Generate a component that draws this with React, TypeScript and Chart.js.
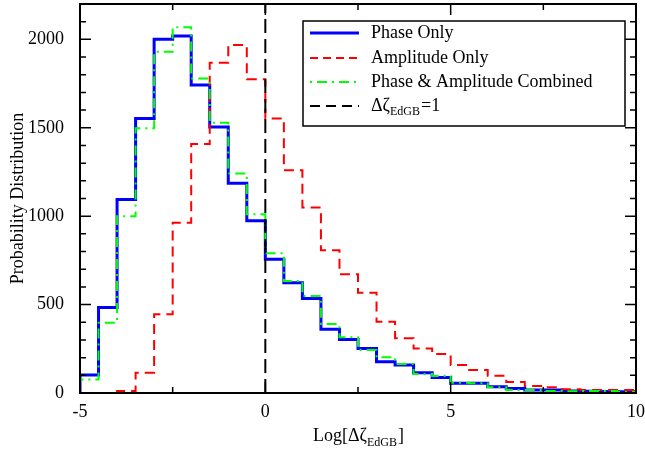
import React, { useEffect, useRef } from "react";
import { Chart, registerables } from "chart.js";

Chart.register(...registerables);

// Bin left edges (bin width 0.5), histogram ends at x = 10
const binEdges = [
  -5, -4.5, -4, -3.5, -3, -2.5, -2, -1.5, -1, -0.5,
  0, 0.5, 1, 1.5, 2, 2.5, 3, 3.5, 4, 4.5,
  5, 5.5, 6, 6.5, 7, 7.5, 8, 8.5, 9, 9.5,
];
const histEnd = 10;

const phaseOnly = [
  102, 484, 1094, 1552, 2000, 2019, 1742, 1504, 1186, 974,
  757, 623, 535, 360, 303, 252, 177, 158, 115, 88,
  55, 55, 36, 26, 17, 17, 12, 10, 9, 7,
];
const amplitudeOnly = [
  null, null, 11, 115, 445, 963, 1408, 1868, 1968, 1774,
  1553, 1260, 1049, 808, 672, 567, 403, 309, 252, 221,
  158, 130, 98, 62, 40, 32, 21, 17, 17, 17,
];
const combined = [
  77, 397, 1000, 1497, 1930, 2068, 1779, 1528, 1242, 1011,
  791, 634, 548, 390, 315, 243, 202, 164, 107, 96,
  58, 55, 32, 17, 17, 11, 10, 12, 11, 6,
];

const xTicks = [-5, 0, 5, 10];
const xMinorTicks = [-2.5, 2.5, 7.5];
const yTicks = [0, 500, 1000, 1500, 2000];
const yMinorStep = 100;
const yMax = 2200;
const markerX = 0;

const FONT = "'Liberation Serif', 'Times New Roman', serif";

function stepData(vals: (number | null)[]) {
  const pts: { x: number; y: number | null }[] = [];
  let started = false;
  vals.forEach((v, i) => {
    if (v !== null && !started) {
      pts.push({ x: binEdges[i], y: 0 });
      started = true;
    }
    pts.push({ x: binEdges[i], y: v });
  });
  pts.push({ x: histEnd, y: vals[vals.length - 1] });
  return pts;
}

const frameAndLegend = {
  id: "frameAndLegend",
  afterDraw(chart: any) {
    const ctx = chart.ctx;
    const { left, right, top, bottom } = chart.chartArea;
    const xs = chart.scales.x;
    const ys = chart.scales.y;
    ctx.save();
    // frame
    ctx.strokeStyle = "#000";
    ctx.lineWidth = 2;
    ctx.strokeRect(left, top, right - left, bottom - top);
    // ticks
    ctx.lineWidth = 1.5;
    ctx.beginPath();
    for (let v = 0; v <= yMax; v += yMinorStep) {
      const y = ys.getPixelForValue(v);
      const len = v % 500 === 0 ? 11 : 6;
      ctx.moveTo(left, y); ctx.lineTo(left + len, y);
      ctx.moveTo(right, y); ctx.lineTo(right - len, y);
    }
    xTicks.forEach((v) => {
      const x = xs.getPixelForValue(v);
      ctx.moveTo(x, bottom); ctx.lineTo(x, bottom - 11);
      ctx.moveTo(x, top); ctx.lineTo(x, top + 11);
    });
    xMinorTicks.forEach((v) => {
      const x = xs.getPixelForValue(v);
      ctx.moveTo(x, bottom); ctx.lineTo(x, bottom - 6);
      ctx.moveTo(x, top); ctx.lineTo(x, top + 6);
    });
    ctx.stroke();

    // x axis title with subscript
    ctx.fillStyle = "#000";
    ctx.textBaseline = "alphabetic";
    const big = `18px ${FONT}`;
    const small = `12px ${FONT}`;
    ctx.font = big;
    const w1 = ctx.measureText("Log[Δζ").width;
    const w3 = ctx.measureText("]").width;
    ctx.font = small;
    const w2 = ctx.measureText("EdGB").width;
    const cx = (left + right) / 2;
    let tx = cx - (w1 + w2 + w3) / 2;
    const by = 441;
    ctx.font = big;
    ctx.textAlign = "left";
    ctx.fillText("Log[Δζ", tx, by);
    tx += w1;
    ctx.font = small;
    ctx.fillText("EdGB", tx, by + 5);
    tx += w2 + 1;
    ctx.font = big;
    ctx.fillText("]", tx, by);

    // legend
    const bx = 303, byy = 21, bw = 322, bh = 105;
    ctx.fillStyle = "#fff";
    ctx.fillRect(bx, byy, bw, bh);
    ctx.strokeStyle = "#000";
    ctx.lineWidth = 1.5;
    ctx.strokeRect(bx, byy, bw, bh);
    const rows = [
      { label: "Phase Only", color: "#0000ff", dash: [], width: 3 },
      { label: "Amplitude Only", color: "#ff0000", dash: [8, 5], width: 2 },
      { label: "Phase & Amplitude Combined", color: "#00ff00", dash: [2, 5, 10, 5], width: 2 },
      { label: "Δζ", color: "#000000", dash: [10, 6], width: 2 },
    ];
    const rowY = [33, 58, 82, 106];
    rows.forEach((r, i) => {
      const y = rowY[i];
      ctx.beginPath();
      ctx.setLineDash(r.dash);
      ctx.strokeStyle = r.color;
      ctx.lineWidth = r.width;
      ctx.moveTo(310, y);
      ctx.lineTo(359, y);
      ctx.stroke();
      ctx.setLineDash([]);
      ctx.fillStyle = "#000";
      ctx.font = big;
      ctx.textBaseline = "middle";
      ctx.fillText(r.label, 371, y);
      if (i === 3) {
        let lx = 371 + ctx.measureText(r.label).width;
        ctx.font = small;
        ctx.fillText("EdGB", lx, y + 6);
        lx += ctx.measureText("EdGB").width + 1;
        ctx.font = big;
        ctx.fillText("=1", lx, y);
      }
    });
    ctx.restore();
  },
};

export default function App() {
  const ref = useRef<HTMLCanvasElement | null>(null);
  useEffect(() => {
    if (!ref.current) return;
    const chart = new Chart(ref.current, {
      type: "line",
      data: {
        datasets: [
          {
            label: "Δζ_EdGB=1",
            data: [{ x: markerX, y: 0 }, { x: markerX, y: yMax }],
            borderColor: "#000000",
            borderWidth: 2,
            borderDash: [14, 6],
            pointRadius: 0,
            order: 0,
          },
          {
            label: "Phase & Amplitude Combined",
            data: stepData(combined),
            borderColor: "#00ff00",
            borderWidth: 2,
            borderDash: [2, 5, 10, 5],
            stepped: "before",
            pointRadius: 0,
            order: 1,
          },
          {
            label: "Amplitude Only",
            data: stepData(amplitudeOnly),
            borderColor: "#ff0000",
            borderWidth: 2,
            borderDash: [10, 6],
            stepped: "before",
            pointRadius: 0,
            spanGaps: false,
            order: 2,
          },
          {
            label: "Phase Only",
            data: stepData(phaseOnly),
            borderColor: "#0000ff",
            borderWidth: 3,
            stepped: "before",
            pointRadius: 0,
            order: 3,
          },
        ] as any,
      },
      options: {
        animation: false,
        responsive: false,
        maintainAspectRatio: false,
        layout: { padding: { left: 0, right: 9, top: 4, bottom: 0 }, autoPadding: false } as any,
        plugins: { legend: { display: false }, tooltip: { enabled: false } },
        scales: {
          x: {
            type: "linear",
            min: -5,
            max: 10,
            grid: { display: false },
            border: { display: false },
            afterBuildTicks: (s: any) => { s.ticks = xTicks.map((v) => ({ value: v })); },
            afterFit: (s: any) => { s.height = 62; s.paddingLeft = 0; s.paddingRight = 0; },
            ticks: {
              color: "#000",
              font: { family: FONT, size: 18 },
              padding: 0,
              maxRotation: 0,
              callback: (v: any) => String(v),
            },
          },
          y: {
            type: "linear",
            min: 0,
            max: yMax,
            grid: { display: false },
            border: { display: false },
            afterBuildTicks: (s: any) => { s.ticks = yTicks.map((v) => ({ value: v })); },
            afterFit: (s: any) => { s.width = 80; s.paddingTop = 0; s.paddingBottom = 0; },
            ticks: {
              color: "#000",
              font: { family: FONT, size: 18 },
              padding: 8,
              callback: (v: any) => String(v),
            },
            title: {
              display: true,
              text: "Probability Distribution",
              color: "#000",
              font: { family: FONT, size: 18 },
              padding: { top: 7, bottom: 0 },
            },
          },
        },
      } as any,
      plugins: [frameAndLegend],
    });
    return () => chart.destroy();
  }, []);
  return (
    <div style={{ position: "fixed", left: 0, top: 0, width: 645, height: 455, background: "#fff" }}>
      <canvas ref={ref} width={645} height={455} style={{ width: 645, height: 455 }} />
    </div>
  );
}
